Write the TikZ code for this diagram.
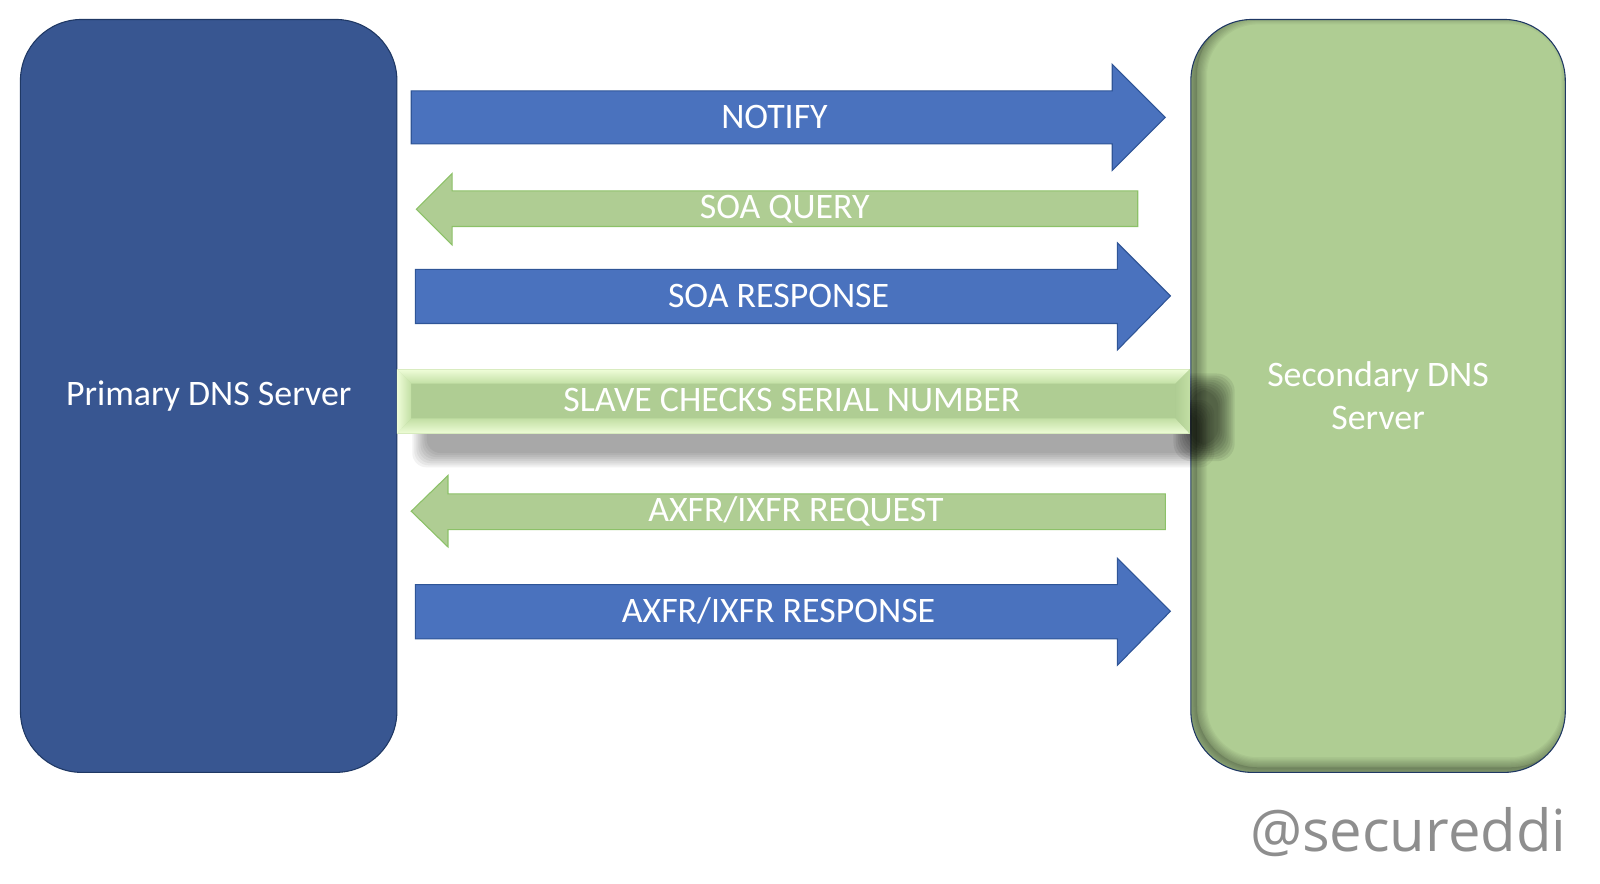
\documentclass[tikz,border=0pt]{standalone}
\usepackage{fontspec}
\setmainfont{Carlito}
\newfontfamily\tagfont{Open Sans}
\definecolor{srvblue}{HTML}{385691}
\definecolor{srvedge}{HTML}{1F3864}
\definecolor{msgblue}{HTML}{4A72BE}
\definecolor{msgblueedge}{HTML}{2F5597}
\definecolor{msggreen}{HTML}{AFCD93}
\definecolor{msggreenedge}{HTML}{8CC168}
\definecolor{bevellight}{HTML}{EFFDD8}
\definecolor{bevelmid}{HTML}{C2DFA4}
\definecolor{tagcolor}{HTML}{8E8E8E}
\tikzset{
  server/.style={rounded corners=1.2cm, minimum width=7.38cm, minimum height=14.76cm,
    text=white, align=center, font=\fontsize{20}{24}\selectfont, line width=0.6pt},
  tomsg/.style={fill=msgblue, draw=msgblueedge, line width=0.6pt},
  frommsg/.style={fill=msggreen, draw=msggreenedge, line width=0.6pt},
  msglabel/.style={text=white, font=\fontsize{20}{24}\selectfont, inner sep=0pt},
}
\begin{document}
\begin{tikzpicture}[x=0.02cm, y=-0.02cm]
    \useasboundingbox (0,0) rectangle (1568,866.3);
    \node[server, fill=srvblue, draw=srvedge] (primary) at (204.5,388) {Primary DNS Server};
    \node[server, fill=msggreen, draw=srvedge, minimum width=7.34cm,
      path picture={
        \fill[black, opacity=0.12, even odd rule]
          ([shift={(-1cm,-1cm)}]path picture bounding box.south west) rectangle
          ([shift={(1cm,1cm)}]path picture bounding box.north east)
          [rounded corners=1.2cm]
          ([shift={(0.12cm,0.1cm)}]path picture bounding box.south west) rectangle
          ([shift={(0.12cm,0.1cm)}]path picture bounding box.north east);
        \foreach \k in {1,...,8}
          \draw[black, opacity=0.035, line width=\k*1.4pt, rounded corners=1.2cm]
            ([shift={(0.12cm,0.1cm)}]path picture bounding box.south west) rectangle
            ([shift={(0.12cm,0.1cm)}]path picture bounding box.north east);
      }] (secondary) at (1350.5,388) {Secondary DNS\\Server};

    \draw[tomsg] (403,89) -- (1090,89) -- (1090,63) -- (1142,115) -- (1090,167) -- (1090,141) -- (403,141) -- cycle;
    \node[msglabel] (notify) at (759,115) {NOTIFY};

    \draw[frommsg] (1115,187) -- (443,187) -- (443,170) -- (408,205) -- (443,240) -- (443,222) -- (1115,222) -- cycle;
    \node[msglabel] (soaquery) at (769,205) {SOA QUERY};

    \draw[tomsg] (407,264) -- (1095,264) -- (1095,238) -- (1147,290) -- (1095,343) -- (1095,317) -- (407,317) -- cycle;
    \node[msglabel] (soaresp) at (763,290) {SOA RESPONSE};

    \foreach \s in {0,2,...,14}
      \fill[black, opacity=0.05, rounded corners=8] (404+\s,392+\s) rectangle (1190-\s,458-\s);
    \foreach \s in {0,2,...,16}
      \fill[black, opacity=0.075, rounded corners=10] (1150+\s,366+\s) rectangle (1210-\s,452-\s);
    \fill[msggreen] (389,362) rectangle (1166,425);
    \shade[top color=bevellight, bottom color=bevelmid] (389,362) -- (1166,362) -- (1152,376) -- (403,376) -- cycle;
    \shade[top color=bevelmid, bottom color=bevellight] (403,410) -- (1152,410) -- (1166,425) -- (389,425) -- cycle;
    \shade[left color=bevellight, right color=bevelmid] (389,362) -- (403,376) -- (403,410) -- (389,425) -- cycle;
    \shade[left color=msggreen, right color=bevelmid] (1166,362) -- (1152,376) -- (1152,410) -- (1166,425) -- cycle;
    \node[msglabel] (serialchk) at (776,392) {SLAVE CHECKS SERIAL NUMBER};

    \draw[frommsg] (1142,484) -- (439,484) -- (439,466) -- (403,501) -- (439,536) -- (439,519) -- (1142,519) -- cycle;
    \node[msglabel] (xfrreq) at (780,501) {AXFR/IXFR REQUEST};

    \draw[tomsg] (407,573) -- (1095,573) -- (1095,547) -- (1147,599) -- (1095,652) -- (1095,626) -- (407,626) -- cycle;
    \node[msglabel] (xfrresp) at (763,599) {AXFR/IXFR RESPONSE};

    \node[text=tagcolor, font=\tagfont, inner sep=0pt] (tag) at (1380,815) {\resizebox{6.2cm}{!}{@secureddi}};
\end{tikzpicture}
\end{document}
